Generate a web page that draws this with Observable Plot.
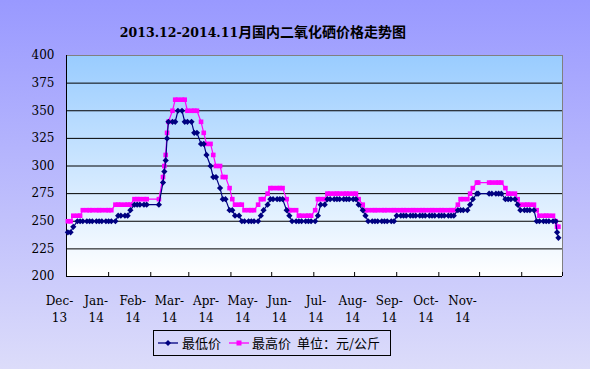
<!DOCTYPE html>
<html>
<head>
<meta charset="utf-8">
<script src="https://cdn.jsdelivr.net/npm/d3@7"></script>
<script src="https://cdn.jsdelivr.net/npm/@observablehq/plot@0.6"></script>
<style>
  html, body { margin: 0; padding: 0; }
  #wrap { position: relative; width: 590px; height: 369px; overflow: hidden;
    background: linear-gradient(to bottom, #9999FF 0%, #DCDCFA 100%); }
  #title { position: absolute; left: 0; top: 23px; width: 526px; text-align: center;
    font: bold 14px "DejaVu Serif", "Noto Sans CJK SC", serif; line-height: 18px; color: #000; }
  #title .lat { font-size: 12.5px; }
  #legend { position: absolute; left: 153px; top: 330px; width: 236px; height: 24px;
    border: 1px solid #000; font: 13px "Noto Sans CJK SC", sans-serif; color: #000; }
  #legend span { position: absolute; top: 3px; line-height: 18px; white-space: nowrap; }
  #legend svg { position: absolute; top: 7px; }
  #chart { position: absolute; left: 0; top: 0; }
</style>
</head>
<body>
<div id="wrap">
  <div id="chart"></div>
  <div id="title"></div>
  <div id="legend"></div>
</div>
<script>
const titleLatin = "2013.12-2014.11";
const titleCJK = "月国内二氧化硒价格走势图";
const seriesNames = ["最低价", "最高价"];
const unitText = "单位：元/公斤";
const xLabels = ["Dec-13","Jan-14","Feb-14","Mar-14","Apr-14","May-14","Jun-14","Jul-14","Aug-14","Sep-14","Oct-14","Nov-14"];
const yTicks = [200, 225, 250, 275, 300, 325, 350, 375, 400];

const dates = [
"2013-12-02","2013-12-04","2013-12-06","2013-12-09","2013-12-11","2013-12-13","2013-12-16","2013-12-18","2013-12-20","2013-12-23",
"2013-12-25","2013-12-27","2013-12-30","2014-01-01","2014-01-03","2014-01-06","2014-01-08","2014-01-10","2014-01-13","2014-01-15",
"2014-01-17","2014-01-20","2014-01-22","2014-01-24","2014-01-27","2014-01-29","2014-02-07","2014-02-10","2014-02-11","2014-02-12",
"2014-02-13","2014-02-14","2014-02-17","2014-02-19","2014-02-21","2014-02-24","2014-02-26","2014-02-28","2014-03-03","2014-03-05",
"2014-03-07","2014-03-10","2014-03-12","2014-03-14","2014-03-17","2014-03-19","2014-03-21","2014-03-24","2014-03-26","2014-03-28",
"2014-03-31","2014-04-02","2014-04-04","2014-04-07","2014-04-09","2014-04-11","2014-04-14","2014-04-16","2014-04-18","2014-04-21",
"2014-04-23","2014-04-25","2014-04-28","2014-04-30","2014-05-02","2014-05-05","2014-05-07","2014-05-09","2014-05-12","2014-05-14",
"2014-05-16","2014-05-19","2014-05-21","2014-05-23","2014-05-26","2014-05-28","2014-05-30","2014-06-02","2014-06-04","2014-06-06",
"2014-06-09","2014-06-11","2014-06-13","2014-06-16","2014-06-18","2014-06-20","2014-06-23","2014-06-25","2014-06-27","2014-06-30",
"2014-07-02","2014-07-04","2014-07-07","2014-07-09","2014-07-11","2014-07-14","2014-07-16","2014-07-18","2014-07-21","2014-07-23",
"2014-07-25","2014-07-28","2014-07-30","2014-08-01","2014-08-04","2014-08-06","2014-08-08","2014-08-11","2014-08-13","2014-08-15",
"2014-08-18","2014-08-20","2014-08-22","2014-08-25","2014-08-27","2014-08-29","2014-09-01","2014-09-03","2014-09-05","2014-09-08",
"2014-09-10","2014-09-12","2014-09-15","2014-09-17","2014-09-19","2014-09-22","2014-09-24","2014-09-26","2014-09-29","2014-09-30",
"2014-10-08","2014-10-10","2014-10-13","2014-10-15","2014-10-17","2014-10-20","2014-10-22","2014-10-24","2014-10-27","2014-10-29",
"2014-10-31","2014-11-03","2014-11-05","2014-11-07","2014-11-10","2014-11-12","2014-11-14","2014-11-17","2014-11-19","2014-11-21",
"2014-11-24","2014-11-26","2014-11-27","2014-11-28"
];

const low = [
240,240,245,250,250,250,250,250,250,250,
250,250,250,250,250,250,255,255,255,255,
260,265,265,265,265,265,265,285,295,305,
325,340,340,340,350,350,340,340,340,330,
330,320,320,310,300,290,290,280,270,270,
260,260,255,255,250,250,250,250,250,250,
255,260,265,270,270,270,270,270,260,255,
250,250,250,250,250,250,250,250,255,265,
265,270,270,270,270,270,270,270,270,270,
270,265,260,255,250,250,250,250,250,250,
250,250,250,255,255,255,255,255,255,255,
255,255,255,255,255,255,255,255,255,255,
255,255,260,260,260,260,265,270,275,275,
275,275,275,275,275,270,270,270,270,265,
260,260,260,260,260,250,250,250,250,250,
250,250,240,235
];

const high = [
250,250,255,255,255,260,260,260,260,260,
260,260,260,260,260,265,265,265,265,265,
265,270,270,270,270,270,270,290,300,310,
330,340,350,360,360,360,360,350,350,350,
350,340,330,320,320,310,300,300,290,290,
280,270,265,265,265,260,260,260,260,265,
270,270,275,280,280,280,280,280,270,260,
260,260,255,255,255,255,255,260,270,270,
270,275,275,275,275,275,275,275,275,275,
275,270,265,260,260,260,260,260,260,260,
260,260,260,260,260,260,260,260,260,260,
260,260,260,260,260,260,260,260,260,260,
260,260,265,270,270,270,275,280,285,285,
285,285,285,285,285,280,275,275,275,270,
265,265,265,265,265,260,255,255,255,255,
255,250,245,245
];

const rows = dates.map((d, i) => ({date: new Date(d), low: low[i], high: high[i]}));

const x0 = new Date("2013-12-01"), x1 = new Date("2014-12-01");
const monthTicks = d3.utcMonth.range(x0, d3.utcDay.offset(x1, 1));

// Excel placed the category labels on a spacing of its own; position them along the date scale
const plotW = 590 - 66 - 28;
const msPerPx = (x1 - x0) / plotW;
const labelDate = i => new Date(+x0 + (-7 + 36.64 * i) * msPerPx);

const serif = "'DejaVu Serif', 'Noto Sans CJK SC', serif";

const chart = Plot.plot({
  width: 590,
  height: 369,
  marginLeft: 66,
  marginRight: 28,
  marginTop: 55,
  marginBottom: 93,
  style: {background: "transparent", fontFamily: serif, fontSize: "12px", color: "#000", overflow: "visible"},
  x: {type: "utc", domain: [x0, x1], label: null},
  y: {domain: [200, 400], label: null},
  marks: [
    Plot.frame({fill: "url(#plotGrad)", stroke: "none"}),
    Plot.gridY(yTicks.slice(1, -1), {stroke: "#000", strokeOpacity: 1, strokeWidth: 1}),
    Plot.ruleY([400], {stroke: "#808080"}),
    Plot.ruleX([x1], {stroke: "#808080"}),
    Plot.ruleY([200], {stroke: "#000"}),
    Plot.ruleX([x0], {stroke: "#000"}),
    Plot.axisY({ticks: yTicks, tickSize: 0, tickPadding: 12, fontSize: 12, fontFamily: serif, label: null}),
    Plot.axisX({ticks: monthTicks, tickSize: -4, tickFormat: () => "", stroke: "#000", label: null}),
    Plot.text(xLabels, {
      x: (d, i) => labelDate(i),
      text: d => d.replace("-", "-\n"),
      frameAnchor: "bottom",
      lineAnchor: "top",
      dy: 16,
      lineHeight: 1.45,
      fontSize: 12,
      fontFamily: serif,
      fill: "#000"
    }),
    Plot.line(rows, {x: "date", y: "high", stroke: "#FF00FF", strokeWidth: 1.2}),
    Plot.dot(rows, {x: "date", y: "high", symbol: "square", fill: "#FF00FF", r: 2.6}),
    Plot.line(rows, {x: "date", y: "low", stroke: "#000080", strokeWidth: 1.2}),
    Plot.dot(rows, {x: "date", y: "low", symbol: "diamond2", fill: "#000080", r: 2.8})
  ]
});

// gradient for the plot area
const NS = "http://www.w3.org/2000/svg";
const defs = document.createElementNS(NS, "defs");
const grad = document.createElementNS(NS, "linearGradient");
grad.setAttribute("id", "plotGrad");
grad.setAttribute("x1", "0"); grad.setAttribute("y1", "0");
grad.setAttribute("x2", "0"); grad.setAttribute("y2", "1");
[["0%", "#99CCFF"], ["100%", "#FFFFFF"]].forEach(([o, c]) => {
  const s = document.createElementNS(NS, "stop");
  s.setAttribute("offset", o); s.setAttribute("stop-color", c);
  grad.appendChild(s);
});
defs.appendChild(grad);
chart.insertBefore(defs, chart.firstChild);

document.getElementById("chart").appendChild(chart);
document.getElementById("title").innerHTML = `<span class="lat">${titleLatin}</span>${titleCJK}`;

// legend
const legend = document.getElementById("legend");
legend.innerHTML = `
  <svg width="22" height="10" style="left:3px"><line x1="1" y1="5" x2="21" y2="5" stroke="#000080" stroke-width="1.3"/><path d="M11,2L14,5L11,8L8,5Z" fill="#000080"/></svg>
  <span style="left:28px">${seriesNames[0]}</span>
  <svg width="22" height="10" style="left:74px"><line x1="1" y1="5" x2="21" y2="5" stroke="#FF00FF" stroke-width="1.3"/><rect x="8.5" y="2.5" width="5" height="5" fill="#FF00FF"/></svg>
  <span style="left:98px">${seriesNames[1]}</span>
  <span style="left:143px">${unitText}</span>`;
</script>
</body>
</html>
